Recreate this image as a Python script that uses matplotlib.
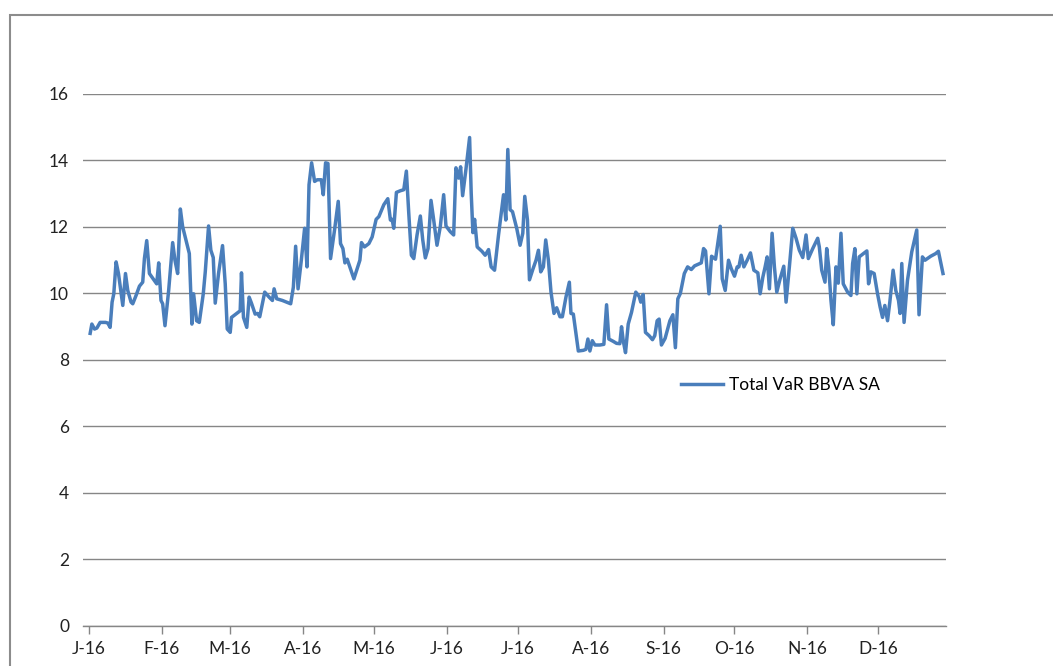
import matplotlib
matplotlib.use("Agg")
import matplotlib.pyplot as plt
from matplotlib.patches import Rectangle
import pandas as pd

plt.rcParams['font.family'] = ['Lato', 'DejaVu Sans']

# ------------------------------------------------------------------
# Dados (dias desde 2016-01-01, VaR total)
# ------------------------------------------------------------------
dias = [
    0.55, 1.27, 2.41, 3.39, 4.78, 7.07, 8.04, 9.02, 9.86, 10.58,
    11.56, 12.57, 14.40, 15.54, 16.51, 17.91, 18.63, 20.03, 21.47, 22.86,
    23.58, 24.56, 25.70, 27.82, 28.79, 29.64, 30.61, 31.33, 32.31, 33.87,
    35.57, 36.54, 37.68, 38.83, 39.80, 41.20, 42.64, 43.74, 44.46, 45.73,
    46.87, 48.56, 49.41, 50.81, 51.78, 52.80, 53.64, 55.04, 56.74, 57.88,
    58.73, 60.00, 60.55, 62.37, 64.23, 64.78, 65.63, 67.03, 68.04, 69.01,
    70.58, 71.56, 72.53, 74.65, 76.51, 77.91, 78.63, 79.73, 82.14, 85.66,
    86.80, 87.77, 88.79, 90.18, 91.58, 92.60, 93.45, 94.55, 95.82, 96.96,
    98.65, 99.50, 100.47, 101.49, 102.59, 104.28, 105.85, 106.82, 107.84, 108.69,
    109.66, 112.50, 115.04, 115.72, 116.99, 118.85, 120.25, 121.94, 123.09, 125.20,
    126.89, 127.99, 128.71, 129.43, 130.54, 132.23, 133.67, 134.77, 135.79, 136.89,
    137.91, 139.30, 140.70, 141.72, 142.82, 143.96, 145.23, 146.37, 147.77, 149.17,
    150.60, 151.58, 153.40, 154.84, 155.81, 156.96, 157.80, 158.65, 160.05, 161.61,
    162.29, 163.01, 163.73, 164.83, 166.82, 168.22, 169.66, 170.76, 172.20, 173.89,
    176.01, 176.98, 177.83, 178.80, 179.82, 181.64, 183.04, 184.18, 185.03, 186.17,
    187.02, 188.42, 189.81, 190.83, 191.80, 192.94, 193.92, 195.06, 196.16, 197.43,
    198.57, 199.97, 200.98, 202.51, 203.95, 204.63, 205.64, 207.76, 209.88, 210.98,
    211.83, 212.67, 213.69, 214.79, 216.91, 218.60, 219.75, 220.72, 222.58, 223.98,
    225.38, 226.10, 226.82, 227.79, 228.94, 230.33, 232.15, 233.59, 234.27, 235.29,
    236.26, 237.83, 239.23, 240.20, 241.22, 242.06, 243.04, 244.60, 246.63, 247.90,
    248.96, 250.00, 251.06, 252.75, 254.15, 255.71, 257.11, 259.95, 260.92, 261.77,
    263.21, 264.31, 266.00, 267.99, 268.84, 270.11, 271.51, 272.66, 274.05, 275.20,
    275.92, 276.89, 278.03, 279.43, 280.83, 282.27, 283.96, 284.93, 286.08, 287.05,
    287.90, 288.87, 290.01, 290.99, 292.00, 293.40, 294.97, 295.94, 297.34, 298.78,
    300.18, 301.58, 303.02, 304.42, 305.39, 307.26, 309.37, 310.05, 311.07, 312.47,
    313.19, 314.03, 315.00, 315.98, 317.12, 318.10, 319.24, 320.21, 322.07, 323.47,
    324.19, 325.16, 326.00, 326.98, 328.42, 330.24, 330.96, 331.93, 333.33, 334.77,
    335.87, 336.89, 337.86, 339.01, 339.98, 341.38, 342.52, 343.67, 344.34, 345.06,
    346.03, 347.47, 349.29, 351.41, 352.38, 353.82, 354.92, 357.34, 359.45, 360.60,
    362.55,
]

var_total = [
    8.80, 9.08, 8.93, 8.96, 9.13, 9.13, 9.11, 8.98, 9.74, 9.99,
    10.95, 10.60, 9.64, 10.60, 10.09, 9.74, 9.69, 9.94, 10.22, 10.34,
    11.05, 11.59, 10.60, 10.39, 10.29, 10.92, 9.79, 9.69, 9.03, 10.09,
    11.53, 11.00, 10.60, 12.54, 12.01, 11.61, 11.20, 9.08, 9.99, 9.18,
    9.13, 9.99, 10.65, 12.03, 11.30, 11.08, 9.71, 10.60, 11.44, 10.29,
    8.93, 8.83, 9.28, 9.38, 9.48, 10.62, 9.28, 8.98, 9.89, 9.71,
    9.38, 9.40, 9.30, 10.04, 9.89, 9.79, 10.14, 9.84, 9.79, 9.69,
    10.19, 11.42, 10.14, 11.00, 11.96, 10.80, 13.27, 13.93, 13.37, 13.42,
    13.42, 12.97, 13.93, 13.91, 11.05, 11.91, 12.77, 11.50, 11.35, 10.92,
    11.03, 10.44, 11.00, 11.53, 11.40, 11.50, 11.70, 12.23, 12.31, 12.67,
    12.85, 12.21, 12.23, 11.96, 13.04, 13.09, 13.12, 13.68, 12.41, 11.15,
    11.05, 11.76, 12.33, 11.61, 11.07, 11.35, 12.80, 12.21, 11.45, 12.01,
    12.97, 12.03, 11.86, 11.76, 13.78, 13.47, 13.81, 12.94, 13.73, 14.69,
    13.02, 11.83, 12.23, 11.40, 11.27, 11.15, 11.32, 10.80, 10.70, 11.76,
    12.97, 12.21, 14.33, 12.52, 12.46, 11.95, 11.45, 11.81, 12.92, 12.21,
    10.41, 10.72, 11.00, 11.30, 10.65, 10.80, 11.61, 11.00, 10.04, 9.40,
    9.57, 9.30, 9.30, 9.89, 10.34, 9.40, 9.38, 8.27, 8.29, 8.32,
    8.63, 8.27, 8.58, 8.45, 8.45, 8.47, 9.66, 8.63, 8.56, 8.50,
    8.49, 9.00, 8.58, 8.22, 9.08, 9.43, 10.04, 9.91, 9.74, 9.97,
    8.83, 8.73, 8.61, 8.73, 9.18, 9.23, 8.45, 8.65, 9.18, 9.36,
    8.37, 9.84, 10.00, 10.60, 10.80, 10.72, 10.83, 10.92, 11.35, 11.28,
    9.99, 11.12, 11.03, 12.02, 10.44, 10.09, 11.00, 10.75, 10.52, 10.80,
    10.80, 11.15, 10.80, 11.00, 11.22, 10.70, 10.62, 9.99, 10.49, 10.80,
    11.10, 10.14, 11.81, 10.80, 10.04, 10.44, 10.82, 9.74, 10.80, 11.96,
    11.66, 11.30, 11.08, 11.76, 11.05, 11.35, 11.66, 11.40, 10.70, 10.34,
    11.35, 10.80, 9.79, 9.06, 10.80, 10.31, 11.81, 10.29, 10.04, 9.94,
    10.90, 11.35, 9.99, 11.10, 11.18, 11.28, 10.29, 10.65, 10.60, 9.99,
    9.59, 9.28, 9.64, 9.18, 9.74, 10.70, 10.09, 9.79, 9.40, 10.90,
    9.13, 10.39, 11.25, 11.91, 9.36, 11.10, 11.00, 11.12, 11.20, 11.27,
    10.60,
]

meses = pd.date_range("2016-01-01", "2016-12-01", freq="MS")
rotulos_meses = ["J-16", "F-16", "M-16", "A-16", "M-16", "J-16",
                 "J-16", "A-16", "S-16", "O-16", "N-16", "D-16"]
serie_nome = "Total VaR BBVA SA"

datas = pd.Timestamp("2016-01-01") + pd.to_timedelta(dias, unit="D")

# ------------------------------------------------------------------
# Gráfico
# ------------------------------------------------------------------
fig = plt.figure(figsize=(10.53, 6.66), dpi=100)
ax = fig.add_axes([0.0788, 0.0601, 0.8196, 0.7988])

cinza = "#868686"
ax.plot(datas, var_total, color="#4a7ebb", lw=2.5, label=serie_nome,
        solid_joinstyle="round")

ax.set_ylim(0, 16)
ax.set_yticks(range(0, 17, 2))
ax.set_xlim(pd.Timestamp("2015-12-29 12:00"), pd.Timestamp("2016-12-29 20:00"))
ax.set_xticks(meses)
ax.set_xticklabels(rotulos_meses)

ax.grid(axis="y", color=cinza, lw=1.0)
ax.set_axisbelow(True)
for lado in ["top", "right", "left"]:
    ax.spines[lado].set_visible(False)
ax.spines["bottom"].set_color(cinza)
ax.spines["bottom"].set_linewidth(1.0)
ax.tick_params(axis="x", direction="out", length=6, width=1.0, color=cinza,
               pad=5, labelsize=12.5, labelcolor="#222222")
ax.tick_params(axis="y", length=0, pad=10, labelsize=12.5, labelcolor="#222222")

ax.legend(loc="center left", bbox_to_anchor=(0.6467, 0.4219),
          bbox_transform=fig.transFigure, frameon=False, fontsize=12.5,
          handlelength=2.4, handletextpad=0.35, borderpad=0, borderaxespad=0)

# moldura do gráfico (estilo Excel)
fig.patches.append(Rectangle((0.0095, -0.1), 1.2, 1.0775, transform=fig.transFigure,
                             fill=False, edgecolor="#8c8c8c", lw=1.5))

fig.savefig("out.png", dpi=100)
